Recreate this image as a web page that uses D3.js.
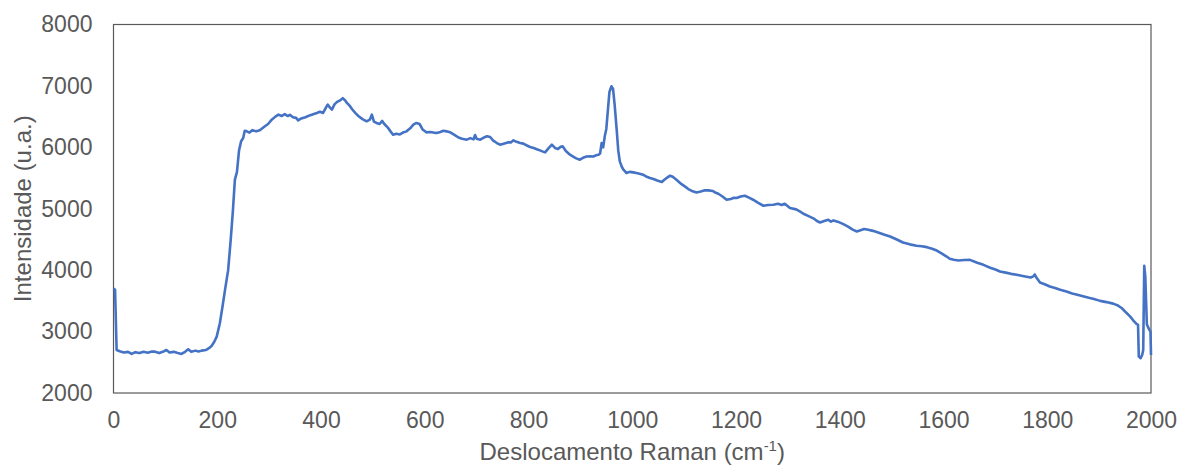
<!DOCTYPE html>
<html>
<head>
<meta charset="utf-8">
<script src="https://cdn.jsdelivr.net/npm/d3@7"></script>
<style>
  html, body { margin: 0; padding: 0; background: #fff; }
  svg { display: block; }
  text { font-family: "Liberation Sans", Arial, sans-serif; fill: #595959; }
</style>
</head>
<body>
<svg id="chart" width="1179" height="466"></svg>
<script>
// Raman shift (cm-1) and measured intensity (a.u.)
const ramanShift = [
  0, 3, 6, 12, 20, 28, 35, 42, 50, 58, 66, 74, 80, 88, 95, 102, 108, 116, 124, 131,
  138, 144, 150, 158, 164, 170, 178, 184, 189, 194, 199, 205, 210, 215, 221, 226, 230, 234, 238, 242,
  246, 250, 253, 257, 262, 268, 275, 282, 290, 298, 305, 312, 318, 324, 330, 336, 340, 346, 352, 356,
  362, 370, 378, 385, 392, 398, 404, 409, 413, 417, 421, 426, 431, 437, 442, 447, 450, 455, 460, 466,
  472, 480, 488, 494, 498, 502, 507, 513, 518, 522, 528, 534, 539, 545, 552, 558, 565, 572, 578, 584,
  590, 596, 603, 610, 617, 623, 630, 636, 642, 650, 658, 665, 672, 681, 688, 694, 697, 700, 707, 714,
  720, 726, 732, 739, 745, 752, 760, 766, 771, 777, 784, 790, 797, 803, 810, 816, 822, 828, 832, 838,
  845, 851, 857, 862, 866, 872, 880, 886, 892, 899, 905, 912, 919, 925, 930, 935, 938, 941, 944, 947,
  950, 953, 956, 960, 963, 966, 970, 973, 976, 980, 983, 989, 995, 1002, 1008, 1014, 1021, 1028, 1034, 1041,
  1048, 1057, 1063, 1068, 1073, 1078, 1084, 1089, 1095, 1102, 1108, 1115, 1124, 1132, 1140, 1147, 1155, 1161, 1166, 1174,
  1182, 1190, 1196, 1201, 1209, 1217, 1225, 1233, 1242, 1253, 1262, 1272, 1281, 1288, 1294, 1304, 1316, 1323, 1330, 1340,
  1350, 1356, 1362, 1370, 1378, 1383, 1388, 1396, 1407, 1416, 1425, 1433, 1440, 1447, 1455, 1464, 1474, 1485, 1497, 1510,
  1522, 1535, 1548, 1558, 1568, 1578, 1587, 1597, 1606, 1612, 1620, 1629, 1640, 1651, 1665, 1677, 1690, 1700, 1709, 1720,
  1730, 1741, 1755, 1768, 1773, 1776, 1779, 1786, 1795, 1805, 1815, 1825, 1837, 1848, 1858, 1869, 1880, 1890, 1902, 1914,
  1927, 1935, 1944, 1952, 1960, 1966, 1972, 1975, 1976.5, 1980, 1983, 1985, 1987, 1989, 1992, 1995, 1997, 1999, 2000
];
const intensity = [
  3700, 3680, 2700, 2680, 2660, 2670, 2636, 2665, 2650, 2670, 2655, 2675, 2673, 2650, 2670, 2700, 2660, 2670, 2650, 2636,
  2670, 2712, 2670, 2690, 2675, 2690, 2700, 2730, 2766, 2830, 2918, 3136, 3400, 3679, 4000, 4500, 4950, 5473, 5600, 5950,
  6100, 6152, 6270, 6260, 6240, 6280, 6260, 6277, 6330, 6380, 6450, 6500, 6532, 6510, 6540, 6510, 6530, 6490, 6480, 6440,
  6470, 6490, 6520, 6540, 6560, 6580, 6560, 6640, 6696, 6650, 6614, 6700, 6740, 6766, 6800, 6760, 6723, 6680, 6620, 6560,
  6510, 6460, 6424, 6450, 6532, 6420, 6397, 6380, 6430, 6380, 6330, 6260, 6206, 6220, 6210, 6240, 6260, 6310, 6370, 6397,
  6380, 6290, 6244, 6250, 6240, 6234, 6250, 6270, 6260, 6240, 6200, 6160, 6140, 6125, 6150, 6130, 6200, 6140, 6125, 6160,
  6180, 6168, 6110, 6070, 6043, 6060, 6080, 6080, 6114, 6090, 6070, 6060, 6030, 6006, 5990, 5970, 5950, 5930, 5918, 5980,
  6043, 5990, 5973, 6010, 6016, 5940, 5880, 5850, 5820, 5799, 5830, 5850, 5853, 5850, 5870, 5880, 5900, 6070, 6000, 6179,
  6300, 6600, 6900, 6994, 6950, 6700, 6288, 5950, 5771, 5680, 5636, 5582, 5600, 5592, 5582, 5570, 5554, 5520, 5500, 5484,
  5460, 5435, 5480, 5510, 5538, 5520, 5480, 5445, 5400, 5360, 5321, 5290, 5266, 5280, 5300, 5299, 5290, 5260, 5244, 5200,
  5147, 5160, 5180, 5174, 5200, 5212, 5180, 5147, 5100, 5049, 5060, 5065, 5080, 5060, 5082, 5011, 4990, 4957, 4918, 4880,
  4840, 4800, 4777, 4800, 4820, 4790, 4810, 4790, 4750, 4710, 4660, 4630, 4650, 4670, 4657, 4640, 4614, 4580, 4549, 4500,
  4451, 4420, 4397, 4390, 4375, 4350, 4320, 4270, 4222, 4185, 4170, 4157, 4165, 4168, 4120, 4087, 4040, 4010, 3978, 3960,
  3940, 3924, 3900, 3880, 3900, 3930, 3880, 3798, 3770, 3733, 3710, 3680, 3652, 3620, 3600, 3575, 3550, 3530, 3500, 3480,
  3455, 3430, 3380, 3310, 3244, 3180, 3125, 3110, 2592, 2566, 2620, 2700, 4070, 3900, 3120, 3060, 3027, 3000, 2620
];

// Axis ticks
const xTicks = [0, 200, 400, 600, 800, 1000, 1200, 1400, 1600, 1800, 2000];
const yTicks = [2000, 3000, 4000, 5000, 6000, 7000, 8000];

const margin = { left: 113.5, right: 1151, top: 24.5, bottom: 393 };

const svg = d3.select("#chart");

const x = d3.scaleLinear().domain([0, 2000]).range([margin.left, margin.right]);
const y = d3.scaleLinear().domain([2000, 8000]).range([margin.bottom, margin.top]);

// Plot-area frame
svg.append("rect")
  .attr("x", margin.left)
  .attr("y", margin.top)
  .attr("width", margin.right - margin.left)
  .attr("height", margin.bottom - margin.top)
  .attr("fill", "none")
  .attr("stroke", "#595959")
  .attr("stroke-width", 1.2);

// Y axis labels
const yAxis = d3.axisLeft(y).tickValues(yTicks).tickSize(0).tickPadding(21).tickFormat(d3.format("d"));
const gy = svg.append("g").attr("transform", `translate(${margin.left},0)`).call(yAxis);
gy.select(".domain").remove();
gy.selectAll("text").style("font-size", "23px").attr("fill", "#595959");

// X axis labels
const xAxis = d3.axisBottom(x).tickValues(xTicks).tickSize(0).tickPadding(19).tickFormat(d3.format("d"));
const gx = svg.append("g").attr("transform", `translate(0,${margin.bottom})`).call(xAxis);
gx.select(".domain").remove();
gx.selectAll("text").style("font-size", "23px").attr("fill", "#595959");

// Spectrum
const pts = ramanShift.map((d, i) => [d, intensity[i]]);
const line = d3.line().x(d => x(d[0])).y(d => y(d[1]));
svg.append("path")
  .datum(pts)
  .attr("d", line)
  .attr("fill", "none")
  .attr("stroke", "#4472C4")
  .attr("stroke-width", 2.6)
  .attr("stroke-linejoin", "round");

// Axis titles
const xt = svg.append("text")
  .attr("x", (margin.left + margin.right) / 2)
  .attr("y", 460)
  .attr("text-anchor", "middle")
  .style("font-size", "24px");
xt.append("tspan").text("Deslocamento Raman (cm");
xt.append("tspan").attr("dy", -9).style("font-size", "15px").text("-1");
xt.append("tspan").attr("dy", 9).text(")");

svg.append("text")
  .attr("transform", `translate(31,${(margin.top + margin.bottom) / 2}) rotate(-90)`)
  .attr("text-anchor", "middle")
  .style("font-size", "24px")
  .text("Intensidade (u.a.)");
</script>
</body>
</html>
